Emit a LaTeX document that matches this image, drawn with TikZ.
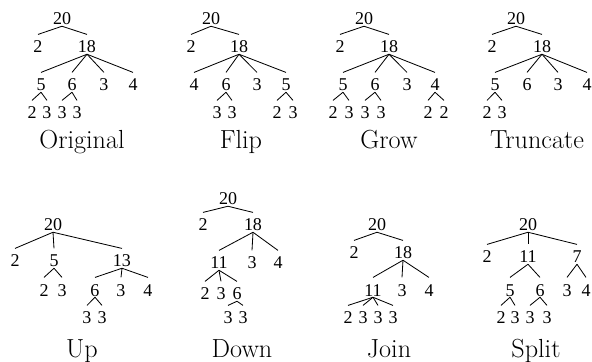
\documentclass[tikz,border=0pt]{standalone}
\usepackage{fontspec}
\newfontfamily\numfont{Liberation Serif}

\tikzset{
    nd/.style={font=\numfont\fontsize{10.8}{12}\selectfont, inner sep=0pt,
        text height=10.9pt, text depth=0.5pt, anchor=base},
    lbl/.style={font=\fontsize{15.7}{18}\selectfont, inner sep=0pt, anchor=base}
}

\begin{document}
\begin{tikzpicture}[x=0.6pt, y=-0.6pt, line width=0.5pt]
    \useasboundingbox (0,0) rectangle (592,362);

    % Original
    \begin{scope}
        \node[nd] (o0) at (62,25) {20};
        \node[nd] (o1) at (38,53) {2};
        \node[nd] (o2) at (87,53) {18};
        \node[nd] (o21) at (41,91) {5};
        \node[nd] (o22) at (72,91) {6};
        \node[nd] (o23) at (104,91) {3};
        \node[nd] (o24) at (133,91) {4};
        \node[nd] (o211) at (32,119) {2};
        \node[nd] (o212) at (47,119) {3};
        \node[nd] (o221) at (62,119) {3};
        \node[nd] (o222) at (77,119) {3};
        \draw (o0.south) edge (o1.north) edge (o2.north);
        \draw (o2.south) edge (o21.north) edge (o22.north) edge (o23.north) edge (o24.north);
        \draw (o21.south) edge (o211.north) edge (o212.north);
        \draw (o22.south) edge (o221.north) edge (o222.north);
        \node[lbl] (ocap) at (82,149) {Original};
    \end{scope}

    % Flip
    \begin{scope}
        \node[nd] (f0) at (211,25) {20};
        \node[nd] (f1) at (191,53) {2};
        \node[nd] (f2) at (239,53) {18};
        \node[nd] (f21) at (194,91) {4};
        \node[nd] (f22) at (226,91) {6};
        \node[nd] (f23) at (257,91) {3};
        \node[nd] (f24) at (286,91) {5};
        \node[nd] (f221) at (217,119) {3};
        \node[nd] (f222) at (232,119) {3};
        \node[nd] (f241) at (277,119) {2};
        \node[nd] (f242) at (293,119) {3};
        \draw (f0.south) edge (f1.north) edge (f2.north);
        \draw (f2.south) edge (f21.north) edge (f22.north) edge (f23.north) edge (f24.north);
        \draw (f22.south) edge (f221.north) edge (f222.north);
        \draw (f24.south) edge (f241.north) edge (f242.north);
        \node[lbl] (fcap) at (241,149) {Flip};
    \end{scope}

    % Grow
    \begin{scope}
        \node[nd] (g0) at (364,25) {20};
        \node[nd] (g1) at (340,53) {2};
        \node[nd] (g2) at (389,53) {18};
        \node[nd] (g21) at (343,91) {5};
        \node[nd] (g22) at (375,91) {6};
        \node[nd] (g23) at (407,91) {3};
        \node[nd] (g24) at (435,91) {4};
        \node[nd] (g211) at (333,119) {2};
        \node[nd] (g212) at (349,119) {3};
        \node[nd] (g221) at (365,119) {3};
        \node[nd] (g222) at (381,119) {3};
        \node[nd] (g241) at (428,119) {2};
        \node[nd] (g242) at (444,119) {2};
        \draw (g0.south) edge (g1.north) edge (g2.north);
        \draw (g2.south) edge (g21.north) edge (g22.north) edge (g23.north) edge (g24.north);
        \draw (g21.south) edge (g211.north) edge (g212.north);
        \draw (g22.south) edge (g221.north) edge (g222.north);
        \draw (g24.south) edge (g241.north) edge (g242.north);
        \node[lbl] (gcap) at (389,149) {Grow};
    \end{scope}

    % Truncate
    \begin{scope}
        \node[nd] (t0) at (516,25) {20};
        \node[nd] (t1) at (492,53) {2};
        \node[nd] (t2) at (542,53) {18};
        \node[nd] (t21) at (495,91) {5};
        \node[nd] (t22) at (527,91) {6};
        \node[nd] (t23) at (558,91) {3};
        \node[nd] (t24) at (587,91) {4};
        \node[nd] (t211) at (487,119) {2};
        \node[nd] (t212) at (502,119) {3};
        \draw (t0.south) edge (t1.north) edge (t2.north);
        \draw (t2.south) edge (t21.north) edge (t22.north) edge (t23.north) edge (t24.north);
        \draw (t21.south) edge (t211.north) edge (t212.north);
        \node[lbl] (tcap) at (537,149) {Truncate};
    \end{scope}

    % Up
    \begin{scope}
        \node[nd] (u0) at (53,231) {20};
        \node[nd] (u1) at (15,267) {2};
        \node[nd] (u2) at (54,267) {5};
        \node[nd] (u3) at (122,267) {13};
        \node[nd] (u21) at (44,296) {2};
        \node[nd] (u22) at (62,296) {3};
        \node[nd] (u31) at (95,296) {6};
        \node[nd] (u32) at (121,296) {3};
        \node[nd] (u33) at (148,296) {4};
        \node[nd] (u311) at (87,324) {3};
        \node[nd] (u312) at (102,324) {3};
        \draw (u0.south) edge (u1.north) edge (u2.north) edge (u3.north);
        \draw (u2.south) edge (u21.north) edge (u22.north);
        \draw (u3.south) edge (u31.north) edge (u32.north) edge (u33.north);
        \draw (u31.south) edge (u311.north) edge (u312.north);
        \node[lbl] (ucap) at (82,358) {Up};
    \end{scope}

    % Down
    \begin{scope}
        \node[nd] (d0) at (228,205) {20};
        \node[nd] (d1) at (203,231) {2};
        \node[nd] (d2) at (253,231) {18};
        \node[nd] (d21) at (219,269) {11};
        \node[nd] (d22) at (252,269) {3};
        \node[nd] (d23) at (278,269) {4};
        \node[nd] (d211) at (205,300) {2};
        \node[nd] (d212) at (221,300) {3};
        \node[nd] (d213) at (237,300) {6};
        \node[nd] (d2131) at (228,324) {3};
        \node[nd] (d2132) at (243,324) {3};
        \draw (d0.south) edge (d1.north) edge (d2.north);
        \draw (d2.south) edge (d21.north) edge (d22.north) edge (d23.north);
        \draw (d21.south) edge (d211.north) edge (d212.north) edge (d213.north);
        \draw (d213.south) edge (d2131.north) edge (d2132.north);
        \node[lbl] (dcap) at (242,358) {Down};
    \end{scope}

    % Join
    \begin{scope}
        \node[nd] (j0) at (377,231) {20};
        \node[nd] (j1) at (354,259) {2};
        \node[nd] (j2) at (403,259) {18};
        \node[nd] (j21) at (373,296) {11};
        \node[nd] (j22) at (402,296) {3};
        \node[nd] (j23) at (429,296) {4};
        \node[nd] (j211) at (348,324) {2};
        \node[nd] (j212) at (363,324) {3};
        \node[nd] (j213) at (378,324) {3};
        \node[nd] (j214) at (393,324) {3};
        \draw (j0.south) edge (j1.north) edge (j2.north);
        \draw (j2.south) edge (j21.north) edge (j22.north) edge (j23.north);
        \draw (j21.south) edge (j211.north) edge (j212.north) edge (j213.north) edge (j214.north);
        \node[lbl] (jcap) at (389,358) {Join};
    \end{scope}

    % Split
    \begin{scope}
        \node[nd] (s0) at (528,231) {20};
        \node[nd] (s1) at (487,263) {2};
        \node[nd] (s2) at (528,263) {11};
        \node[nd] (s3) at (577,263) {7};
        \node[nd] (s21) at (510,296) {5};
        \node[nd] (s22) at (540,296) {6};
        \node[nd] (s31) at (567,296) {3};
        \node[nd] (s32) at (586,296) {4};
        \node[nd] (s211) at (501,324) {2};
        \node[nd] (s212) at (515,324) {3};
        \node[nd] (s221) at (530,324) {3};
        \node[nd] (s222) at (547,324) {3};
        \draw (s0.south) edge (s1.north) edge (s2.north) edge (s3.north);
        \draw (s2.south) edge (s21.north) edge (s22.north);
        \draw (s3.south) edge (s31.north) edge (s32.north);
        \draw (s21.south) edge (s211.north) edge (s212.north);
        \draw (s22.south) edge (s221.north) edge (s222.north);
        \node[lbl] (scap) at (536,358) {Split};
    \end{scope}
\end{tikzpicture}
\end{document}
